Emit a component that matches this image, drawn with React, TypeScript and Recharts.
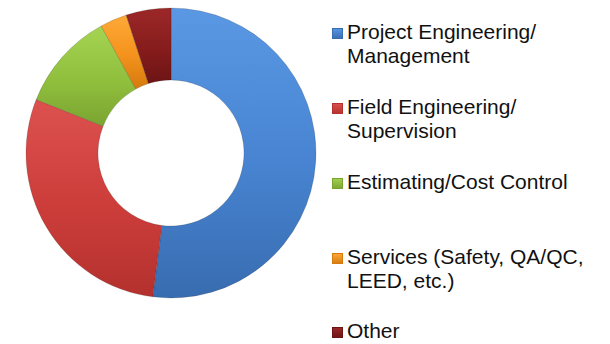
import { PieChart, Pie, Cell } from 'recharts';

// share of staff by role (percent)
const categories = [
  'Project Engineering/\nManagement',
  'Field Engineering/\nSupervision',
  'Estimating/Cost Control',
  'Services (Safety, QA/QC,\nLEED, etc.)',
  'Other',
];
const shares = [52, 29, 11, 3, 5];

const colors = ['#4783d0', '#cc3d3a', '#90bf3d', '#f3921c', '#861c1c'];
const lightColors = ['#5a98e4', '#dc514e', '#a5d352', '#ffaa38', '#9c2828'];
const darkColors = ['#386cb0', '#b3312e', '#7aa431', '#d57a0e', '#6c1414'];

const data = categories.map((name, i) => ({ name, value: shares[i] }));

// legend rows spaced like the original, one slot per item
const rowTops = [20, 95, 170, 245, 319];

function SideLegend() {
  return (
    <div style={{ position: 'absolute', left: 332, top: 0, width: 278, height: 344 }}>
      {categories.map((label, i) => (
        <div
          key={label}
          style={{
            position: 'absolute',
            top: rowTops[i],
            left: 0,
            display: 'flex',
            alignItems: 'flex-start',
            fontFamily: '"Liberation Sans", Arial, sans-serif',
            fontSize: 21,
            lineHeight: '24px',
            color: '#111',
          }}
        >
          <span
            style={{
              display: 'inline-block',
              flex: 'none',
              width: 11,
              height: 11,
              marginTop: 8,
              marginRight: 4,
              background: `linear-gradient(${lightColors[i]}, ${darkColors[i]})`,
              boxShadow: `inset 0 0 0 1px ${darkColors[i]}`,
            }}
          />
          <span style={{ whiteSpace: 'pre' }}>{label}</span>
        </div>
      ))}
    </div>
  );
}

export default function App() {
  return (
    <div style={{ position: 'absolute', left: 0, top: 0, width: 610, height: 344, background: '#fff' }}>
      <PieChart width={610} height={344} margin={{ top: 0, right: 0, bottom: 0, left: 0 }}>
        <defs>
          {colors.map((c, i) => (
            <linearGradient key={c} id={`slice${i}`} x1="0" y1="0" x2="0" y2="1">
              <stop offset="0%" stopColor={lightColors[i]} />
              <stop offset="55%" stopColor={c} />
              <stop offset="100%" stopColor={darkColors[i]} />
            </linearGradient>
          ))}
        </defs>
        <Pie
          data={data}
          dataKey="value"
          nameKey="name"
          cx={171}
          cy={153}
          innerRadius={73}
          outerRadius={145}
          startAngle={90}
          endAngle={-270}
          stroke="rgba(0,0,0,0.15)"
          strokeWidth={1}
          isAnimationActive={false}
        >
          {data.map((d, i) => (
            <Cell key={d.name} fill={`url(#slice${i})`} />
          ))}
        </Pie>
      </PieChart>
      <SideLegend />
    </div>
  );
}
